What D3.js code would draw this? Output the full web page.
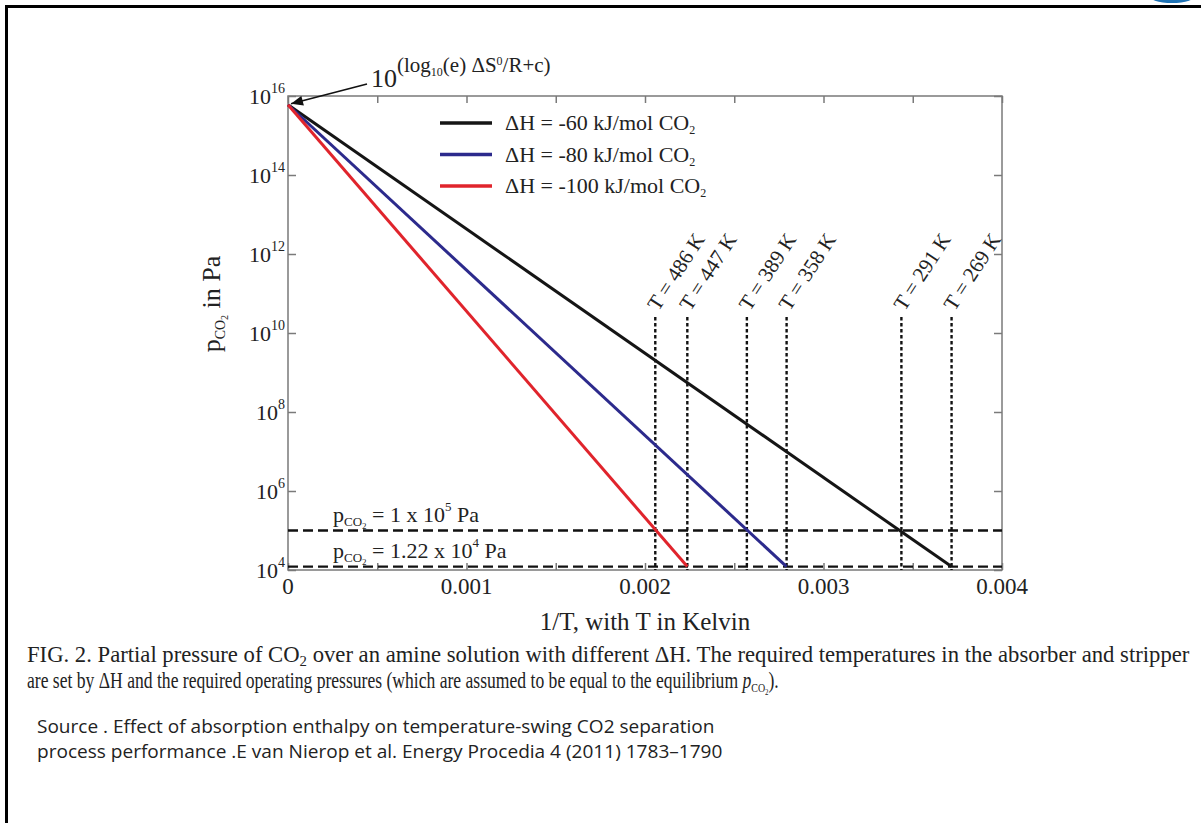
<!DOCTYPE html>
<html>
<head>
<meta charset="utf-8">
<script src="https://cdn.jsdelivr.net/npm/d3@7"></script>
<style>
  body { margin: 0; background: #fff; }
  svg text { font-family: "Liberation Serif", "Times New Roman", serif; fill: #222; }
</style>
</head>
<body>
<div id="chart"></div>
<script>
// Data
// ============================================================================
const seriesNames = ["-60", "-80", "-100"];            // ΔH in kJ/mol CO2
const seriesColors = ["#151515", "#2c2a8c", "#e0242c"];
const seriesX = [[0, 0.003717], [0, 0.002793], [0, 0.002237]];   // 1/T
const seriesP = [[6.0e15, 1.22e4], [6.0e15, 1.22e4], [6.0e15, 1.22e4]];

const markTemps = [486, 447, 389, 358, 291, 269];     // K, dotted verticals
const levelP = [1e5, 1.22e4];                          // Pa, dashed horizontals
const levelMant = ["1", "1.22"];
const levelExp = ["5", "4"];

const xTicks = [0, 0.0005, 0.001, 0.0015, 0.002, 0.0025, 0.003, 0.0035, 0.004];
const xLabelVals = [0, 0.001, 0.002, 0.003, 0.004];
const xLabels = ["0", "0.001", "0.002", "0.003", "0.004"];
const yTicks = [1e4, 1e6, 1e8, 1e10, 1e12, 1e14, 1e16];
const yExps = ["4", "6", "8", "10", "12", "14", "16"];

// Setup
// ============================================================================
const W = 1201, H = 823,
    plot = {left: 288, right: 1002, top: 96, bottom: 570};

const svg = d3.select("#chart").append("svg")
    .attr("width", W)
    .attr("height", H);

svg.append("rect").attr("width", W).attr("height", H).attr("fill", "#fff");

// page frame + logo scrap top right
svg.append("rect")
    .attr("x", 6.5).attr("y", 6.5)
    .attr("width", 1400).attr("height", 1000)
    .attr("fill", "none").attr("stroke", "#000").attr("stroke-width", 3);
svg.append("ellipse")
    .attr("cx", 1172).attr("cy", -5).attr("rx", 24).attr("ry", 8)
    .attr("fill", "#1f73b5");

const x = d3.scaleLinear().domain([0, 0.004]).range([plot.left, plot.right]);
const y = d3.scaleLog().domain([1e4, 1e16]).range([plot.bottom, plot.top]);

// Axes (inward ticks on all four sides)
// ============================================================================
const axisColor = "#7a7a7a";
function styleAxis(g) {
    g.select(".domain").remove();
    g.selectAll("line").attr("stroke", axisColor).attr("stroke-width", 1.5);
}
svg.append("g").attr("transform", "translate(0," + plot.bottom + ")")
    .call(d3.axisBottom(x).tickValues(xTicks).tickSize(-7).tickFormat(""))
    .call(styleAxis);
svg.append("g").attr("transform", "translate(0," + plot.top + ")")
    .call(d3.axisTop(x).tickValues(xTicks).tickSize(-7).tickFormat(""))
    .call(styleAxis);
svg.append("g").attr("transform", "translate(" + plot.left + ",0)")
    .call(d3.axisLeft(y).tickValues(yTicks).tickSize(-8).tickFormat(""))
    .call(styleAxis);
svg.append("g").attr("transform", "translate(" + plot.right + ",0)")
    .call(d3.axisRight(y).tickValues(yTicks).tickSize(-8).tickFormat(""))
    .call(styleAxis);

svg.append("rect")
    .attr("x", plot.left).attr("y", plot.top)
    .attr("width", plot.right - plot.left).attr("height", plot.bottom - plot.top)
    .attr("fill", "none").attr("stroke", axisColor).attr("stroke-width", 1.5);

// tick labels
svg.selectAll(".xlab")
    .data(xLabelVals)
    .enter()
    .append("text")
        .attr("x", d => x(d))
        .attr("y", plot.bottom + 24)
        .attr("text-anchor", "middle")
        .attr("font-size", 23)
        .text((d, i) => xLabels[i]);

yTicks.forEach((d, i) => {
    const t = svg.append("text")
        .attr("x", 285)
        .attr("y", y(d) + 8)
        .attr("text-anchor", "end")
        .attr("font-size", 22);
    t.append("tspan").text("10");
    t.append("tspan").attr("font-size", 14).attr("dy", -11).text(yExps[i]);
});

// axis titles
svg.append("text")
    .attr("x", 645).attr("y", 630)
    .attr("text-anchor", "middle")
    .attr("font-size", 25)
    .text("1/T, with T in Kelvin");

const yt = svg.append("text")
    .attr("transform", "translate(220,304) rotate(-90)")
    .attr("text-anchor", "middle")
    .attr("font-size", 26);
yt.append("tspan").text("p");
yt.append("tspan").attr("font-size", 14).attr("dy", 5).text("CO");
yt.append("tspan").attr("font-size", 10).attr("dy", 3).text("2");
yt.append("tspan").attr("dy", -8).text(" in Pa");

// Reference levels and temperatures
// ============================================================================
svg.selectAll(".level")
    .data(levelP)
    .enter()
    .append("line")
        .attr("x1", plot.left).attr("x2", plot.right)
        .attr("y1", d => y(d)).attr("y2", d => y(d))
        .attr("stroke", "#111").attr("stroke-width", 2.4)
        .style("stroke-dasharray", "10, 5");

levelP.forEach((d, i) => {
    const t = svg.append("text")
        .attr("x", 333).attr("y", y(d) - 9)
        .attr("font-size", 22);
    t.append("tspan").text("p");
    t.append("tspan").attr("font-size", 13).attr("dy", 4).text("CO");
    t.append("tspan").attr("font-size", 9).attr("dy", 3).text("2");
    t.append("tspan").attr("dy", -7).text(" = " + levelMant[i] + " x 10");
    t.append("tspan").attr("font-size", 13).attr("dy", -11).text(levelExp[i]);
    t.append("tspan").attr("dy", 11).text(" Pa");
});

svg.selectAll(".mark")
    .data(markTemps)
    .enter()
    .append("line")
        .attr("x1", d => x(1 / d)).attr("x2", d => x(1 / d))
        .attr("y1", 317).attr("y2", plot.bottom)
        .attr("stroke", "#111").attr("stroke-width", 2.4)
        .style("stroke-dasharray", "3.5, 2.5");

svg.selectAll(".marklab")
    .data(markTemps)
    .enter()
    .append("text")
        .attr("transform", d => "translate(" + (x(1 / d) + 3) + ",312) rotate(-57)")
        .attr("font-size", 21)
        .text(d => "T = " + d + " K");

// Series lines
// ============================================================================
const line = d3.line()
    .x(d => x(d[0]))
    .y(d => y(d[1]));

seriesNames.forEach((name, i) => {
    svg.append("path")
        .datum(seriesX[i].map((v, j) => [v, seriesP[i][j]]))
        .attr("d", line)
        .attr("fill", "none")
        .attr("stroke", seriesColors[i])
        .attr("stroke-width", 3);
});

// Legend
seriesNames.forEach((name, i) => {
    const ly = 123 + i * 31.5;
    svg.append("line")
        .attr("x1", 440).attr("x2", 492)
        .attr("y1", ly).attr("y2", ly)
        .attr("stroke", seriesColors[i]).attr("stroke-width", 3.5);
    const t = svg.append("text")
        .attr("x", 505).attr("y", ly + 7)
        .attr("font-size", 22);
    t.append("tspan").text("\u0394H = " + name + " kJ/mol CO");
    t.append("tspan").attr("font-size", 12).attr("dy", 4).text("2");
});

// Intercept annotation
// ============================================================================
svg.append("defs").append("marker")
    .attr("id", "arrow")
    .attr("viewBox", "0 0 12 10")
    .attr("refX", 12).attr("refY", 5)
    .attr("markerWidth", 14).attr("markerHeight", 10)
    .attr("markerUnits", "userSpaceOnUse")
    .attr("orient", "auto")
    .append("path")
        .attr("d", "M0,0 L12,5 L0,10 Z")
        .attr("fill", "#111");

svg.append("line")
    .attr("x1", 367).attr("y1", 84)
    .attr("x2", x(0) + 3).attr("y2", y(seriesP[0][0]) - 1)
    .attr("stroke", "#111").attr("stroke-width", 1.6)
    .attr("marker-end", "url(#arrow)");

const an = svg.append("text")
    .attr("x", 371).attr("y", 87)
    .attr("font-size", 26);
an.append("tspan").text("10");
an.append("tspan").attr("font-size", 21).attr("dy", -15).text("(log");
an.append("tspan").attr("font-size", 12).attr("dy", 4).text("10");
an.append("tspan").attr("font-size", 21).attr("dy", -4).text("(e) \u0394S");
an.append("tspan").attr("font-size", 12).attr("dy", -7).text("0");
an.append("tspan").attr("font-size", 21).attr("dy", 7).text("/R+c)");

// Caption (condensed by horizontal scaling to the widths in the figure)
// ============================================================================
function fitText(t, x0, y0, width) {
    const len = t.node().getComputedTextLength();
    t.attr("transform", "translate(" + x0 + "," + y0 + ") scale(" + (width / len) + ",1)");
    return t;
}

const c1 = svg.append("text").attr("font-size", 23);
c1.append("tspan").text("FIG. 2. Partial pressure of CO");
c1.append("tspan").attr("font-size", 15).attr("dy", 4).text("2");
c1.append("tspan").attr("dy", -4).text(" over an amine solution with different \u0394H. The required temperatures in the absorber and stripper");
fitText(c1, 27, 662, 1163);

const c2 = svg.append("text").attr("font-size", 23);
c2.append("tspan").text("are set by \u0394H  and the required operating pressures (which are assumed to be equal to the equilibrium ");
c2.append("tspan").attr("font-style", "italic").text("p");
c2.append("tspan").attr("font-size", 13).attr("dy", 4).text("CO");
c2.append("tspan").attr("font-size", 9).attr("dy", 3).text("2");
c2.append("tspan").attr("dy", -7).text(").");
fitText(c2, 27, 688, 752);

const s1 = svg.append("text")
    .style("font-family", "'Open Sans', sans-serif")
    .attr("font-size", 19)
    .text("Source . Effect of absorption enthalpy on temperature-swing CO2 separation");
fitText(s1, 37, 733, 678);

const s2 = svg.append("text")
    .style("font-family", "'Open Sans', sans-serif")
    .attr("font-size", 19)
    .text("process performance .E van Nierop et al. Energy Procedia 4 (2011) 1783\u20131790");
fitText(s2, 37, 758, 686);
</script>
</body>
</html>
